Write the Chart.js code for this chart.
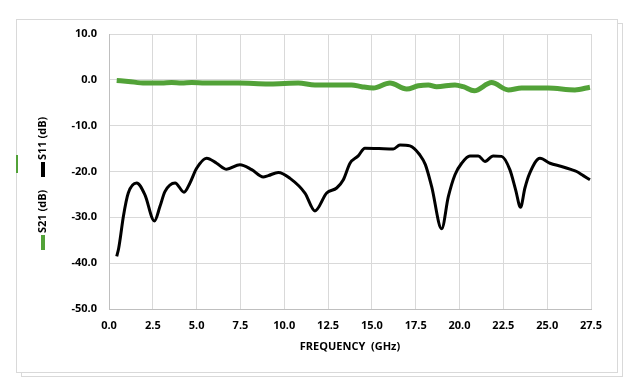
<!DOCTYPE html>
<html>
<head>
<meta charset="utf-8">
<script src="https://cdn.jsdelivr.net/npm/chart.js@4"></script>
<style>
  body { margin: 0; background: #fff; }
  #wrap { position: relative; width: 635px; height: 392px; }
  .box { position: absolute; border: 1px solid #d9d9d9; background: #fff; }
  #back { left: 21px; top: 23px; width: 600px; height: 352px; }
  #front { left: 16px; top: 19px; width: 600px; height: 352px; }
  #mark { position: absolute; left: 16px; top: 155px; width: 2px; height: 18px; background: #52a238; }
  canvas { position: absolute; left: 0; top: 0; }
</style>
</head>
<body>
<div id="wrap">
  <div class="box" id="back"></div>
  <div class="box" id="front"></div>
  <div id="mark"></div>
  <canvas id="chart" width="635" height="392"></canvas>
</div>
<script>
// S11 (black)
const s11Freq = [0.44, 0.55, 0.63, 0.82, 1.10, 1.58, 2.05, 2.59, 2.91, 3.19, 3.77, 4.28, 4.62, 5.0, 5.57,
  6.14, 6.71, 7.47, 8.14, 8.8, 9.09, 9.66, 10.33, 11.18, 11.75, 12.42, 12.99, 13.37, 13.75, 14.22,
  14.6, 15.4, 16.22, 16.6, 17.17, 17.74, 18.05, 18.41, 18.98, 19.36, 19.74, 20.12, 20.59, 21.07,
  21.45, 21.92, 22.4, 22.87, 23.2, 23.48, 23.73, 24.0, 24.59, 25.16, 25.82, 26.39, 26.68, 27.06, 27.44];
const s11Db = [-38.5, -36.8, -34.9, -29.8, -24.7, -22.5, -25.1, -30.8, -27.6, -24.4, -22.5, -24.5, -22.5, -19.3, -17.1,
  -18.2, -19.5, -18.5, -19.6, -21.2, -20.9, -20.2, -21.5, -24.7, -28.6, -24.7, -23.6, -21.8, -18.2, -16.6,
  -14.9, -15.0, -15.1, -14.2, -14.4, -16.4, -18.5, -23.3, -32.5, -25.5, -20.7, -18.2, -16.6, -16.6,
  -17.8, -16.6, -16.7, -19.6, -24.0, -27.8, -23.6, -20.4, -17.1, -18.2, -18.9, -19.6, -20.0, -20.9, -21.8];

// S21 (green)
const s21Freq = [0.44, 1.1, 2.05, 3.0, 3.57, 4.14, 4.72, 5.48, 7.4, 9.1, 10.0, 10.8, 11.75, 13.84, 14.41,
  15.08, 16.03, 16.98, 17.65, 18.22, 18.69, 19.74, 20.21, 20.84, 21.83, 22.78, 23.54, 25.06, 26.58, 27.44];
const s21Db = [-0.15, -0.35, -0.7, -0.7, -0.6, -0.7, -0.6, -0.7, -0.7, -0.9, -0.8, -0.7, -1.1, -1.1, -1.5,
  -1.8, -0.7, -2.0, -1.3, -1.1, -1.5, -1.1, -1.5, -2.4, -0.6, -2.2, -1.8, -1.8, -2.2, -1.6];

const green = '#52a238';
const font = { family: '"Open Sans", sans-serif', size: 11, weight: 'bold' };

const toPoints = (xs, ys) => xs.map((x, i) => ({ x: x, y: ys[i] }));

// rotated y title with the little series markers
const yTitlePlugin = {
  id: 'yTitle',
  afterDraw(chart) {
    const ctx = chart.ctx;
    ctx.save();
    ctx.translate(43, 250);
    ctx.rotate(-Math.PI / 2);
    ctx.font = 'bold 11px "Open Sans"';
    ctx.textBaseline = 'middle';
    ctx.fillStyle = green;
    ctx.fillRect(0, -2, 15, 4);
    ctx.fillStyle = '#000';
    ctx.fillText('S21 (dB)', 17, 0);
    ctx.fillRect(73, -2, 15, 4);
    ctx.fillText('S11 (dB)', 90, 0);
    ctx.restore();
  }
};

new Chart(document.getElementById('chart'), {
  type: 'line',
  data: {
    datasets: [
      {
        label: 'S21 (dB)',
        data: toPoints(s21Freq, s21Db),
        borderColor: green,
        borderWidth: 5,
        pointRadius: 0,
        cubicInterpolationMode: 'monotone'
      },
      {
        label: 'S11 (dB)',
        data: toPoints(s11Freq, s11Db),
        borderColor: '#000',
        borderWidth: 3,
        pointRadius: 0,
        cubicInterpolationMode: 'monotone'
      }
    ]
  },
  options: {
    responsive: false,
    animation: false,
    layout: { padding: { top: 34, right: 44, left: 0, bottom: 0 } },
    plugins: { legend: { display: false }, tooltip: { enabled: false } },
    scales: {
      x: {
        type: 'linear',
        min: 0,
        max: 27.5,
        afterFit: (s) => { s.height = 83; },
        grid: { color: '#d9d9d9', drawTicks: false },
        border: { color: '#bfbfbf' },
        ticks: { stepSize: 2.5, padding: 10, color: '#000', font: font, maxRotation: 0,
          callback: (v) => v.toFixed(1) },
        title: { display: true, text: 'FREQUENCY  (GHz)', color: '#000', font: font,
          padding: { top: 0, bottom: 39 } }
      },
      y: {
        min: -50,
        max: 10,
        afterFit: (s) => { s.width = 109; },
        grid: { color: '#d9d9d9', drawTicks: false },
        border: { color: '#bfbfbf' },
        ticks: { stepSize: 10, padding: 12, color: '#000', font: font,
          callback: (v) => v.toFixed(1) }
      }
    }
  },
  plugins: [yTitlePlugin]
});
</script>
</body>
</html>
